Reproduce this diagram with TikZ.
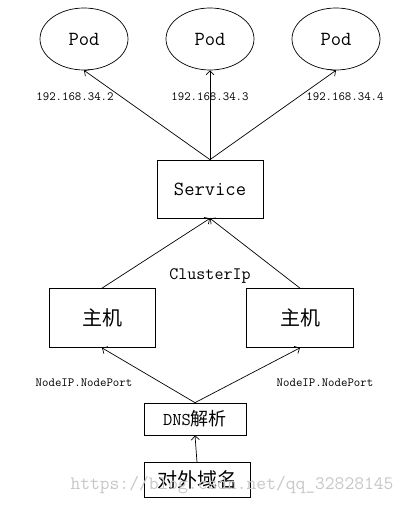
\documentclass[tikz,border=0pt]{standalone}
\usepackage{fontspec}
\newfontfamily\cjk{Noto Sans CJK SC}
\usetikzlibrary{shapes.geometric,arrows.meta}
\tikzset{
  pod/.style={draw, ellipse, minimum width=88pt, minimum height=62pt, inner sep=0pt,
    font=\ttfamily\fontsize{20}{20}\selectfont},
  box/.style={draw, rectangle, inner sep=0pt, font=\fontsize{20}{20}\selectfont},
  iplabel/.style={font=\ttfamily\fontsize{12.5}{12.5}\selectfont},
  link/.style={-{Straight Barb[length=4pt,width=8pt]}},
}
\begin{document}
\begin{tikzpicture}[x=1pt, y=-1pt, line width=0.7pt]
    \useasboundingbox (0,0) rectangle (408,505);
    % pods
    \foreach \x/\n in {84/1,210/2,336/3} {
        \node [pod] (pod\n) at (\x,39) {Pod};
    }
    \node [iplabel] (ip1) at (75,97) {192.168.34.2};
    \node [iplabel] (ip2) at (210,97) {192.168.34.3};
    \node [iplabel] (ip3) at (345,97) {192.168.34.4};

    % service
    \node [box, minimum width=106pt, minimum height=58pt] (svc) at (210,189) {\ttfamily Service};
    \foreach \n in {1,2,3} {
        \draw [link] (svc.north) -- (pod\n.south);
    }

    % hosts
    \node [box, minimum width=106pt, minimum height=59pt] (host1) at (102,318) {\cjk 主机};
    \node [box, minimum width=107pt, minimum height=59pt] (host2) at (300,318) {\cjk 主机};
    \node [font=\ttfamily\fontsize{17.5}{17.5}\selectfont] (cip) at (210,276) {ClusterIp};
    \draw [link] (host1.north) -- (svc.south);
    \draw [link] (host2.north) -- (svc.south);

    % dns
    \node [iplabel] (np1) at (84,383) {NodeIP.NodePort};
    \node [iplabel] (np2) at (325,383) {NodeIP.NodePort};
    \node [box, minimum width=102pt, minimum height=32pt, font=\fontsize{18}{18}\selectfont] (dns) at (195,419) {\ttfamily DNS\cjk 解析};
    \draw [link] (dns.north) -- (host1.south);
    \draw [link] (dns.north) -- (host2.south);

    % domain
    \node [box, minimum width=106pt, minimum height=35pt] (dom) at (197,480) {\cjk 对外域名};
    \draw [link] (dom.north) -- (dns.south);

    % watermark
    \node [font=\ttfamily\fontsize{19}{19}\selectfont, text=black!22] (wm) at (232,485) {https://blog.csdn.net/qq\_32828145};
\end{tikzpicture}
\end{document}
